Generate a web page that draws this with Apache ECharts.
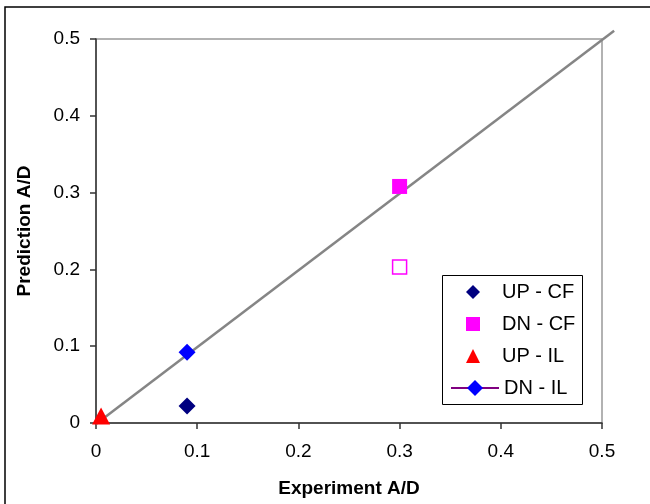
<!DOCTYPE html>
<html>
<head>
<meta charset="utf-8">
<script src="https://cdn.jsdelivr.net/npm/echarts@6/dist/echarts.min.js"></script>
<style>
  html, body { margin: 0; padding: 0; background: #fff; }
  #chart { width: 650px; height: 504px; }
</style>
</head>
<body>
<div id="chart"></div>
<script>
// 数据
const upCF = [[0.09, 0.022]];
const dnCF = [[0.30, 0.308]];
const dnCFOpen = [[0.30, 0.203]];
const upIL = [[0.005, 0.009]];
const dnIL = [[0.09, 0.092]];
const diagonal = [[0, 0], [0.512, 0.512]];

const font = 'Liberation Sans, Arial, sans-serif';

const chart = echarts.init(document.getElementById('chart'));

// 绘图区 0~0.5 对应 506x384 像素，对角线画到 0.512，用一个稍大的隐藏坐标系
const plotW = 506, plotH = 384;

const option = {
	animation: false,
	backgroundColor: '#fff',
	graphic: [{
		type: 'rect',
		z: -1,
		shape: { x: 5, y: 7, width: 700, height: 600 },
		style: { fill: 'none', stroke: '#000', lineWidth: 1.5 }
	}, {
		type: 'rect',
		z: 10,
		shape: { x: 442.5, y: 275.5, width: 140, height: 129 },
		style: { fill: '#fff', stroke: '#000', lineWidth: 1 }
	}],
	grid: [{
		left: 96, top: 39, width: plotW, height: plotH,
		show: true,
		borderColor: '#999',
		borderWidth: 1.5
	}, {
		left: 96, width: plotW * 0.52 / 0.5, height: plotH * 0.52 / 0.5, bottom: 80,
		show: false
	}],
	legend: [{
		orient: 'vertical',
		left: 466,
		top: 282,
		padding: 0,
		itemGap: 12,
		itemWidth: 14,
		itemHeight: 14,
		z: 11,
		textStyle: { fontFamily: font, fontSize: 20, color: '#000', lineHeight: 20, padding: [0, 0, 0, 17] },
		data: ['UP - CF', 'DN - CF', 'UP - IL']
	}, {
		orient: 'vertical',
		left: 450,
		top: 378,
		padding: 0,
		itemWidth: 48,
		itemHeight: 20,
		z: 11,
		textStyle: { fontFamily: font, fontSize: 20, color: '#000', lineHeight: 20 },
		data: ['DN - IL']
	}],
	xAxis: [{
		type: 'value',
		min: 0, max: 0.5, interval: 0.1,
		name: 'Experiment A/D',
		nameLocation: 'middle',
		nameGap: 56,
		nameTextStyle: { fontFamily: font, fontSize: 19, fontWeight: 'bold', color: '#000' },
		splitLine: { show: false },
		axisLine: { show: true, onZero: false, lineStyle: { color: '#333', width: 1.5 } },
		axisTick: { show: true, length: 6, lineStyle: { color: '#333', width: 1.5 } },
		axisLabel: {
			margin: 19,
			fontFamily: font, fontSize: 19, color: '#000',
			formatter: function (v) { return v === 0 ? '0' : v.toFixed(1); }
		}
	}, {
		type: 'value', gridIndex: 1, min: 0, max: 0.52, show: false
	}],
	yAxis: [{
		type: 'value',
		min: 0, max: 0.5, interval: 0.1,
		name: 'Prediction A/D',
		nameLocation: 'middle',
		nameGap: 62,
		nameTextStyle: { fontFamily: font, fontSize: 19, fontWeight: 'bold', color: '#000' },
		splitLine: { show: false },
		axisLine: { show: true, onZero: false, lineStyle: { color: '#333', width: 1.5 } },
		axisTick: { show: true, length: 6, lineStyle: { color: '#333', width: 1.5 } },
		axisLabel: {
			margin: 16,
			fontFamily: font, fontSize: 19, color: '#000',
			formatter: function (v) { return v === 0 ? '0' : v.toFixed(1); }
		}
	}, {
		type: 'value', gridIndex: 1, min: 0, max: 0.52, show: false
	}],
	series: [
		{
			name: 'diag',
			type: 'line',
			xAxisIndex: 1,
			yAxisIndex: 1,
			data: diagonal,
			symbol: 'none',
			clip: false,
			silent: true,
			z: 1,
			lineStyle: { color: '#858585', width: 2.5 }
		},
		{
			name: 'DN - CF open',
			type: 'scatter',
			data: dnCFOpen,
			symbol: 'rect',
			symbolSize: 14,
			itemStyle: { color: '#fff', borderColor: '#ff00ff', borderWidth: 1.5, opacity: 1 }
		},
		{
			name: 'UP - CF',
			type: 'scatter',
			data: upCF,
			symbol: 'diamond',
			symbolSize: 17,
			itemStyle: { color: '#000080', opacity: 1 }
		},
		{
			name: 'DN - CF',
			type: 'scatter',
			data: dnCF,
			symbol: 'rect',
			symbolSize: 15,
			itemStyle: { color: '#ff00ff', opacity: 1 }
		},
		{
			name: 'UP - IL',
			type: 'scatter',
			data: upIL,
			symbol: 'triangle',
			symbolSize: [18, 17],
			itemStyle: { color: '#ff0000', opacity: 1 }
		},
		{
			name: 'DN - IL',
			type: 'line',
			data: dnIL,
			symbol: 'diamond',
			symbolSize: 17,
			lineStyle: { color: '#800080', width: 1.5 },
			itemStyle: { color: '#0000ff' }
		}
	]
};

chart.setOption(option);
</script>
</body>
</html>
